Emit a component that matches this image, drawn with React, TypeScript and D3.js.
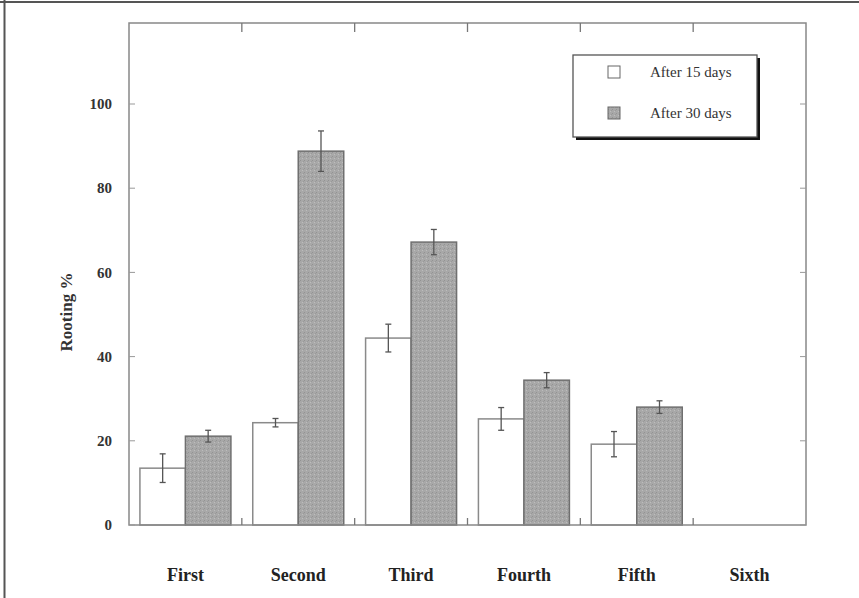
import React from 'react';
import * as d3 from 'd3';

const categories = ['First', 'Second', 'Third', 'Fourth', 'Fifth', 'Sixth'];
const after15 = [13.5, 24.3, 44.4, 25.2, 19.2, 0];
const after15Err = [3.4, 1.0, 3.3, 2.7, 3.0, 0];
const after30 = [21.1, 88.8, 67.2, 34.4, 28.0, 0];
const after30Err = [1.4, 4.8, 3.0, 1.8, 1.5, 0];
const yTicks = [0, 20, 40, 60, 80, 100];
const seriesNames = ['After 15 days', 'After 30 days'];

const W = 859;
const H = 598;
const left = 129;
const right = 806;
const top = 23;
const bottom = 525;
const serif = '"Liberation Serif", "DejaVu Serif", serif';

const App = () => {
  const x = d3.scaleBand<string>().domain(categories).range([left, right]).paddingInner(0).paddingOuter(0);
  const inner = d3.scaleBand<number>().domain([0, 1]).range([0, x.bandwidth()]).paddingOuter(0.24).paddingInner(0);
  const y = d3.scaleLinear().domain([0, 100]).range([bottom, 104]);
  const boundaries = categories.slice(1).map(c => x(c) as number);

  const series = [
    { vals: after15, errs: after15Err, fill: '#ffffff', stroke: '#8a8a8a' },
    { vals: after30, errs: after30Err, fill: 'url(#stipple)', stroke: '#6f6f6f' },
  ];

  return (
    <svg width={W} height={H} style={{ position: 'absolute', left: 0, top: 0, background: '#fff' }}>
      <defs>
        <pattern id="stipple" width="4" height="4" patternUnits="userSpaceOnUse">
          <rect width="4" height="4" fill="#a8a8a8" />
          <rect x="0" y="0" width="1" height="1" fill="#939393" />
          <rect x="2" y="2" width="1" height="1" fill="#bdbdbd" />
          <rect x="3" y="1" width="1" height="1" fill="#9a9a9a" />
        </pattern>
      </defs>
      {/* outer frame */}
      <line x1={0} x2={W} y1={2} y2={2} stroke="#555" strokeWidth={2} />
      <line x1={4.5} x2={4.5} y1={0} y2={H} stroke="#555" strokeWidth={2} />

      {/* bars */}
      {series.map((s, si) => categories.map((c, i) => {
        const bx = (x(c) as number) + (inner(si) as number);
        const bw = inner.bandwidth();
        const v = s.vals[i];
        if (v <= 0) return null;
        const cx = bx + bw / 2;
        return (
          <g key={`${si}-${c}`}>
            <rect x={bx} y={y(v)} width={bw} height={y(0) - y(v)} fill={s.fill} stroke={s.stroke} strokeWidth={1.5} />
            <line x1={cx} x2={cx} y1={y(v + s.errs[i])} y2={y(v - s.errs[i])} stroke="#555" strokeWidth={1.3} />
            <line x1={cx - 3} x2={cx + 3} y1={y(v + s.errs[i])} y2={y(v + s.errs[i])} stroke="#555" strokeWidth={1.3} />
            <line x1={cx - 3} x2={cx + 3} y1={y(v - s.errs[i])} y2={y(v - s.errs[i])} stroke="#555" strokeWidth={1.3} />
          </g>
        );
      }))}

      {/* plot frame */}
      <rect x={left} y={top} width={right - left} height={bottom - top} fill="none" stroke="#888" strokeWidth={1.5} />
      {boundaries.map((bx, i) => (
        <g key={i}>
          <line x1={bx} x2={bx} y1={top} y2={top + 9} stroke="#777" strokeWidth={1.3} />
          <line x1={bx} x2={bx} y1={bottom} y2={bottom - 7} stroke="#777" strokeWidth={1.3} />
        </g>
      ))}
      {yTicks.map(t => (
        <g key={t}>
          <line x1={left} x2={left + 6} y1={y(t)} y2={y(t)} stroke="#999" strokeWidth={1} />
          <line x1={right} x2={right - 6} y1={y(t)} y2={y(t)} stroke="#999" strokeWidth={1} />
          <text x={112} y={y(t)} dy="0.35em" textAnchor="end" fontFamily={serif} fontWeight="bold" fontSize={15} fill="#333">{t}</text>
        </g>
      ))}

      {/* category labels */}
      {categories.map(c => (
        <text key={c} x={(x(c) as number) + x.bandwidth() / 2} y={581} textAnchor="middle" fontFamily={serif} fontWeight="bold" fontSize={18} fill="#222">{c}</text>
      ))}

      <text transform={`translate(72,312) rotate(-90)`} textAnchor="middle" fontFamily={serif} fontWeight="bold" fontSize={17} fill="#333">Rooting %</text>

      {/* legend */}
      <rect x={576} y={58} width={184} height={82} fill="#111" />
      <rect x={573} y={55} width={184} height={82} fill="#fff" stroke="#555" strokeWidth={1.3} />
      {seriesNames.map((n, i) => (
        <g key={n} transform={`translate(0,${i * 41})`}>
          <rect x={608} y={66} width={12} height={12} fill={i === 0 ? '#fff' : 'url(#stipple)'} stroke="#666" strokeWidth={1} />
          <text x={650} y={77} fontFamily={serif} fontSize={15} fill="#333">{n}</text>
        </g>
      ))}
    </svg>
  );
};

export default App;
